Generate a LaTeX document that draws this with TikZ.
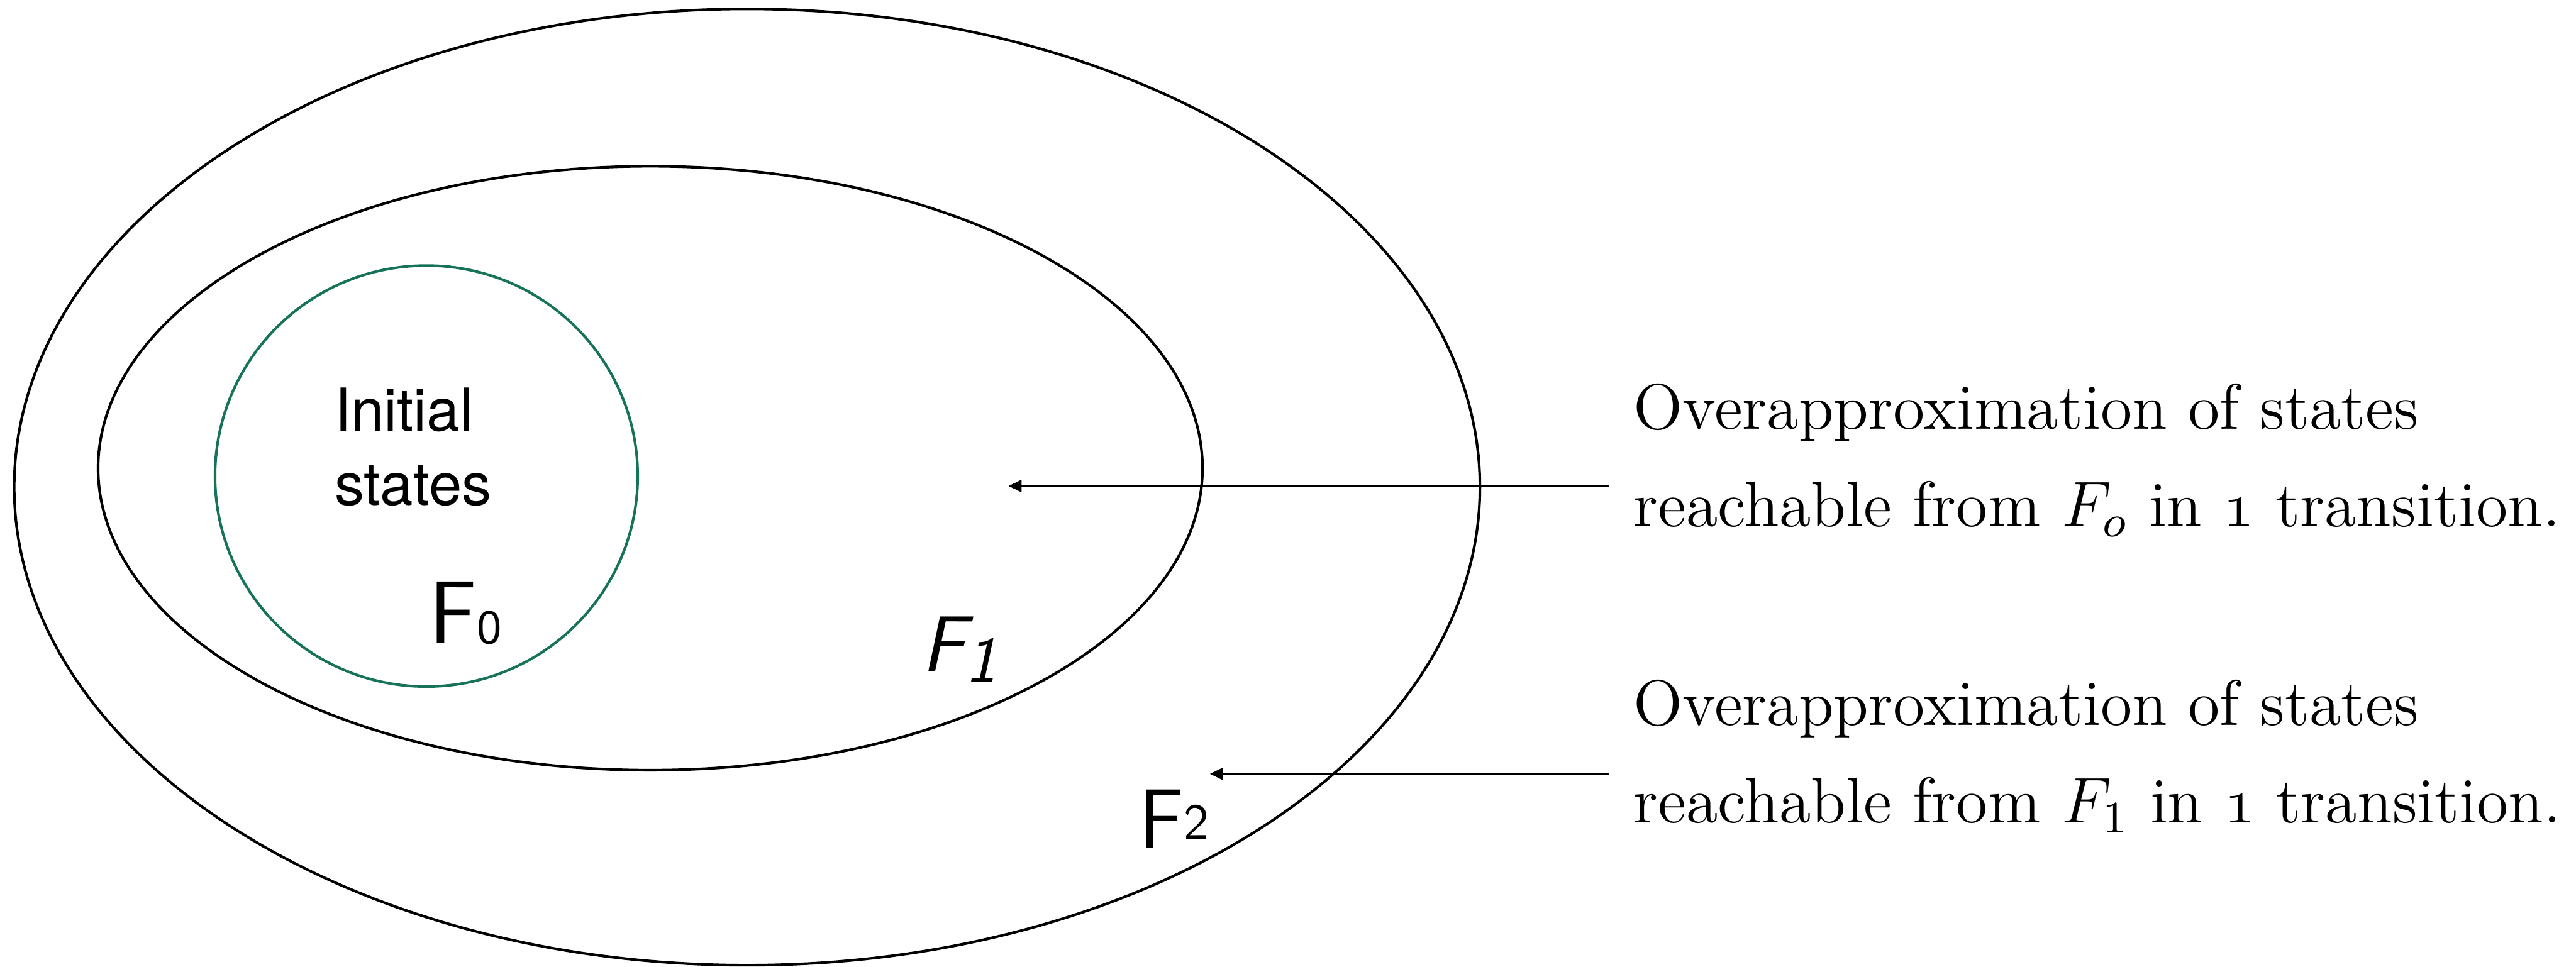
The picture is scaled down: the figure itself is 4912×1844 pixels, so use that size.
\RequirePackage{fix-cm}
\documentclass[tikz,border=0pt]{standalone}
\usepackage{fontspec}
\newfontfamily\helv{TeX Gyre Heros}
\usetikzlibrary{shapes.geometric,arrows.meta}
\definecolor{initgreen}{RGB}{22,114,88}
\newcommand{\osone}{{\usefont{OML}{cmm}{m}{it}1}}
\begin{document}
\begin{tikzpicture}[x=0.1pt,y=-0.1pt,
  setshape/.style={ellipse, draw, line width=0.5pt, inner sep=0pt},
  desc/.style={align=left, inner sep=0pt, anchor=north west,
    font=\fontsize{12.3}{18.6}\selectfont},
  hand/.style={inner sep=0pt, anchor=base west, font=\sffamily},
  pointer/.style={line width=0.4pt, -{Triangle[length=2.5pt,width=2.3pt]}}]
\useasboundingbox (0,0) rectangle (4912,1844);
% nested sets
\node[setshape, minimum width=279.5pt, minimum height=182.4pt] (F2set) at (1424.5,929) {};
\node[setshape, minimum width=210.6pt, minimum height=115.2pt] (F1set) at (1240,893) {};
\node[setshape, draw=initgreen, minimum width=80.6pt, minimum height=80.3pt] (F0set) at (813,908) {};
% labels inside
\node[align=left, inner sep=0pt, anchor=north west,
  font=\helv\fontsize{11.3}{14.1}\selectfont] (init) at (636,738) {Initial\\states};
\node[hand] (lF0) at (817,1227) {\fontsize{17}{17}\selectfont F\fontsize{9.2}{9.2}\selectfont 0};
\node[hand] (lF1) at (1755,1280) {\itshape\fontsize{15}{15}\selectfont F\raisebox{-2.2pt}{\fontsize{12.5}{12.5}\selectfont 1}};
\node[hand] (lF2) at (2170,1617) {\fontsize{16}{16}\selectfont F\raisebox{1.7pt}{\fontsize{9.6}{9.6}\selectfont 2}};
% descriptions
\node[desc] (d1) at (3113,730) {Overapproximation of states\\reachable from $F_o$ in \osone{} transition.};
\node[desc] (d2) at (3113,1295) {Overapproximation of states\\reachable from $F_1$ in \osone{} transition.};
% arrows
\coordinate (a1) at (3068,927);
\coordinate (t1) at (1923,927);
\coordinate (a2) at (3068,1476);
\coordinate (t2) at (2307,1476);
\draw[pointer] (a1) -- (t1);
\draw[pointer] (a2) -- (t2);
\end{tikzpicture}
\end{document}
